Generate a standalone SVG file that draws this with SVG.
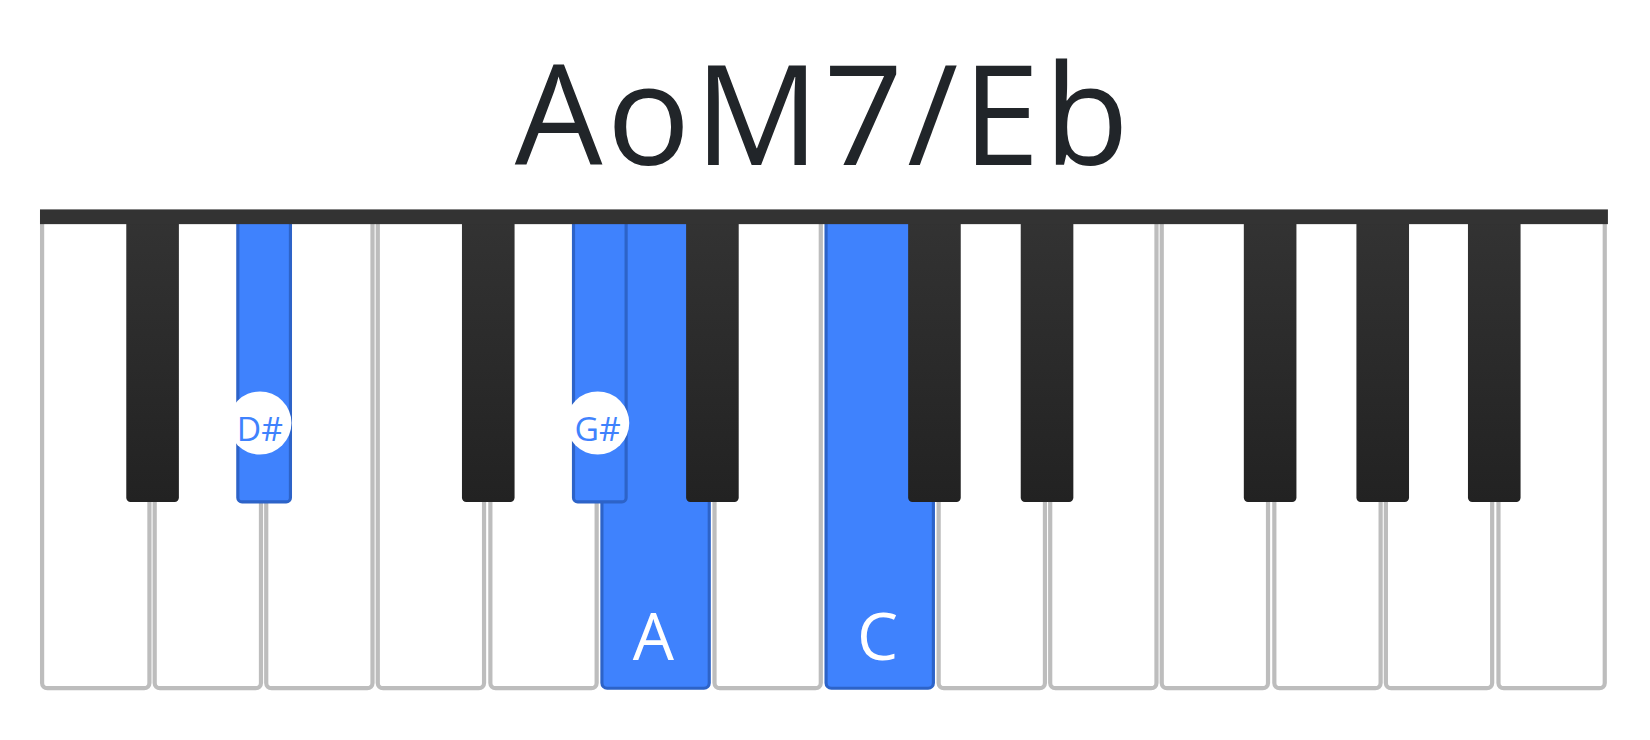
<svg xmlns="http://www.w3.org/2000/svg" width="1650" height="740" viewBox="0 0 1650 740">
<defs>
<linearGradient id="bk" x1="0" y1="0" x2="0" y2="1"><stop offset="0" stop-color="#333"/><stop offset="1" stop-color="#222"/></linearGradient>
<style>
.w{fill:#fff;stroke:#bdbdbd;stroke-width:4}
.wh{fill:#3f82fd;stroke:#2d63c8;stroke-width:3}
.b{fill:url(#bk)}
.bh{fill:#3f82fd;stroke:#2d63c8;stroke-width:3}
.t{font-family:"Open Sans","Noto Sans",sans-serif}
</style>
</defs>
<rect width="1650" height="740" fill="#fff"/>
<g transform="scale(1.0523)">
<text class="t" x="783" y="157" font-size="132" fill="#212529" text-anchor="middle" letter-spacing="4">AoM7/Eb</text>
<g id="white-keys">
<rect class="w" x="40" y="205" width="102" height="449" rx="5"/>
<rect class="w" x="147" y="205" width="101" height="449" rx="5"/>
<rect class="w" x="253" y="205" width="101" height="449" rx="5"/>
<rect class="w" x="359" y="205" width="101" height="449" rx="5"/>
<rect class="w" x="466" y="205" width="101" height="449" rx="5"/>
<rect class="wh" x="572" y="205" width="102" height="449" rx="5"/>
<rect class="w" x="679" y="205" width="101" height="449" rx="5"/>
<rect class="wh" x="785" y="205" width="102" height="449" rx="5"/>
<rect class="w" x="892" y="205" width="101" height="449" rx="5"/>
<rect class="w" x="998" y="205" width="101" height="449" rx="5"/>
<rect class="w" x="1104" y="205" width="101" height="449" rx="5"/>
<rect class="w" x="1211" y="205" width="101" height="449" rx="5"/>
<rect class="w" x="1317" y="205" width="101" height="449" rx="5"/>
<rect class="w" x="1424" y="205" width="101" height="449" rx="5"/>
</g>
<g id="black-keys">
<rect class="b" x="120" y="205" width="50" height="272" rx="4"/>
<rect class="bh" x="226" y="205" width="50" height="272" rx="4"/>
<rect class="b" x="439" y="205" width="50" height="272" rx="4"/>
<rect class="bh" x="545" y="205" width="50" height="272" rx="4"/>
<rect class="b" x="652" y="205" width="50" height="272" rx="4"/>
<rect class="b" x="863" y="205" width="50" height="272" rx="4"/>
<rect class="b" x="970" y="205" width="50" height="272" rx="4"/>
<rect class="b" x="1182" y="205" width="50" height="272" rx="4"/>
<rect class="b" x="1289" y="205" width="50" height="272" rx="4"/>
<rect class="b" x="1395" y="205" width="50" height="272" rx="4"/>
</g>
<rect x="38" y="199" width="1490" height="14" fill="#333"/>
<g id="labels">
<circle cx="247" cy="402" r="30" fill="#fff"/>
<text class="t" x="247" y="419" font-size="32" fill="#3f82fd" text-anchor="middle">D#</text>
<circle cx="568" cy="402" r="30" fill="#fff"/>
<text class="t" x="568" y="419" font-size="32" fill="#3f82fd" text-anchor="middle">G#</text>
<text class="t" x="621" y="627" font-size="62" fill="#fff" text-anchor="middle">A</text>
<text class="t" x="834" y="627" font-size="62" fill="#fff" text-anchor="middle">C</text>
</g>
</g>
</svg>
